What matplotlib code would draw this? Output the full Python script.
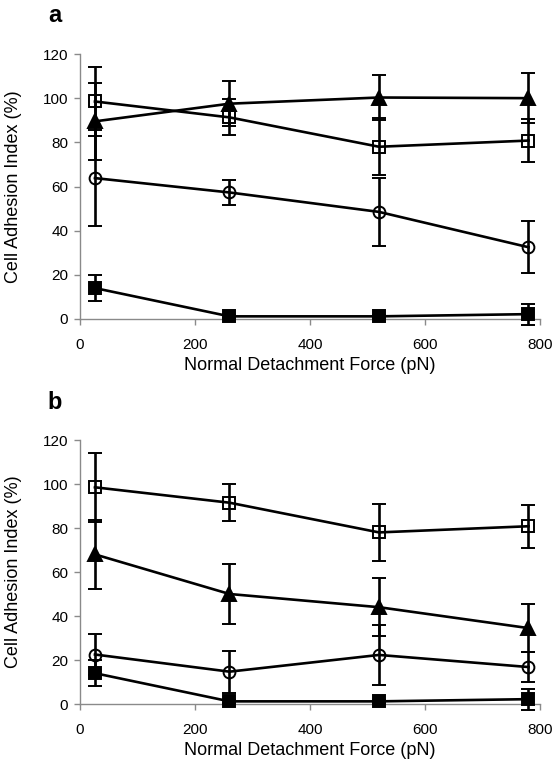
import matplotlib
matplotlib.use("Agg")
import matplotlib.pyplot as plt

plt.rcParams["font.family"] = ["Liberation Sans", "DejaVu Sans"]

force = [26, 260, 520, 780]

# panel a
a_open_sq = [98.5, 91.3, 78.0, 80.8]
a_open_sq_err = [15.5, 8.2, 13.0, 9.6]
a_tri = [89.5, 97.5, 100.3, 100.0]
a_tri_err = [17.5, 10.3, 10.3, 11.3]
a_circ = [63.8, 57.3, 48.5, 32.5]
a_circ_err = [21.8, 5.7, 15.4, 11.8]
a_fill_sq = [14.0, 1.2, 1.2, 2.2]
a_fill_sq_err = [5.7, 0.8, 0.8, 4.8]

# panel b
b_open_sq = [98.5, 91.5, 78.0, 80.8]
b_open_sq_err = [15.8, 8.3, 13.0, 9.8]
b_tri = [68.0, 50.0, 44.0, 34.5]
b_tri_err = [15.8, 13.6, 13.3, 11.0]
b_circ = [22.5, 14.7, 22.3, 16.8]
b_circ_err = [9.2, 9.5, 13.6, 6.8]
b_fill_sq = [14.0, 1.2, 1.2, 2.2]
b_fill_sq_err = [5.8, 0.8, 0.8, 4.8]

xticks = [0, 200, 400, 600, 800]
yticks = [0, 20, 40, 60, 80, 100, 120]

W, H = 559, 759
fig = plt.figure(figsize=(W / 100, H / 100), dpi=100)


def draw_series(ax, y, err, marker, filled, ms):
    ax.errorbar(force, y, yerr=err, color="black", lw=1.9, elinewidth=1.9,
                capsize=5, capthick=1.9, marker=marker, ms=ms,
                mfc="black" if filled else "none", mec="black", mew=1.4,
                clip_on=False, zorder=3)


def panel(rect, series):
    ax = fig.add_axes(rect)
    for y, err, marker, filled, ms in series:
        draw_series(ax, y, err, marker, filled, ms)
    ax.set_xlim(0, 800)
    ax.set_ylim(0, 120)
    ax.set_xticks(xticks)
    ax.set_yticks(yticks)
    for s in ["top", "right"]:
        ax.spines[s].set_visible(False)
    for s in ["left", "bottom"]:
        ax.spines[s].set_color("#8a8a8a")
        ax.spines[s].set_linewidth(1.0)
    ax.tick_params(axis="both", colors="#8a8a8a", labelcolor="black",
                   labelsize=11, length=4.5, width=1.0)
    ax.tick_params(axis="x", pad=9)
    ax.tick_params(axis="y", pad=4)
    ax.set_xlabel("Normal Detachment Force (pN)", fontsize=13)
    ax.set_ylabel("Cell Adhesion Index (%)", fontsize=13)
    ax.xaxis.set_label_coords(0.5, -0.145)
    ax.yaxis.set_label_coords(-0.127, 0.5)
    return ax


ax_a = panel([80 / W, 1 - 319 / H, 460 / W, 265 / H], [
    (a_open_sq, a_open_sq_err, "s", False, 8),
    (a_tri, a_tri_err, "^", True, 9.5),
    (a_circ, a_circ_err, "o", False, 8.5),
    (a_fill_sq, a_fill_sq_err, "s", True, 8.5),
])
ax_b = panel([80 / W, 1 - 704 / H, 460 / W, 264 / H], [
    (b_open_sq, b_open_sq_err, "s", False, 8),
    (b_tri, b_tri_err, "^", True, 9.5),
    (b_circ, b_circ_err, "o", False, 8.5),
    (b_fill_sq, b_fill_sq_err, "s", True, 8.5),
])

fig.text(55 / W, 1 - 16 / H, "a", fontsize=17, fontweight="bold", ha="center", va="center")
fig.text(55 / W, 1 - 402 / H, "b", fontsize=17, fontweight="bold", ha="center", va="center")

fig.savefig("out.png", dpi=100)
